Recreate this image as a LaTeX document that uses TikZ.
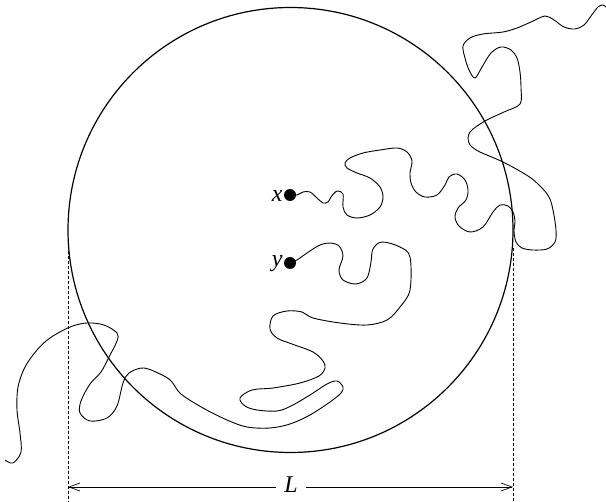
\documentclass[tikz,border=0pt]{standalone}
\usepackage{fontspec}
\setmainfont{Liberation Serif}
\usetikzlibrary{arrows.meta}
\begin{document}
\begin{tikzpicture}[x=1pt,y=-1pt,
  walk/.style={line width=0.9pt, line join=round, smooth, tension=0.55},
  dot/.style={circle, fill=black, inner sep=0pt, minimum size=12pt},
  lbl/.style={font=\fontsize{24}{24}\selectfont\itshape, inner sep=1pt},
  guide/.style={line width=0.5pt, dash pattern=on 3pt off 2pt},
  dim/.style={line width=0.7pt, {Straight Barb[length=11pt,width=8pt]}-{Straight Barb[length=11pt,width=8pt]}}]
\useasboundingbox (0,0) rectangle (606,502);
% circle
\draw[line width=1.2pt] (290.5,230) circle (222.5);
% points
\node[dot] (xd) at (290,195) {};
\node[dot] (yd) at (290,263) {};
\node[lbl, anchor=east] (xl) at ([yshift=-1pt]xd.west) {x};
\node[lbl, anchor=east] (yl) at ([yshift=-1pt]yd.west) {y};
% path from x
\draw[walk] plot coordinates {(xd) (297,195) (303,192) (310,192) (317,198) (323,203) (328,202)
 (331,197) (337,191) (343,194) (343,207) (347,215) (357,218) (370,215) (380,207) (383,197)
 (380,187) (370,178) (357,173) (347,168) (345,163) (350,158) (363,153) (380,150) (397,148)
 (407,152) (412,161) (410,173) (411,183) (416,192) (425,197) (437,195) (445,185) (449,177)
 (457,174) (465,180) (468,190) (466,200) (458,208) (455,217) (459,226) (470,232) (483,227)
 (493,212) (500,205) (508,206) (513,212) (515,221) (514,231) (516,242) (522,248) (533,250)
 (547,249) (555,242) (556,230) (553,210) (549,197) (540,186) (528,176) (503,162) (478,151)
 (469,143) (470,132) (485,121) (504,112) (520,104) (521,88) (520,72) (517,58) (511,50)
 (501,47) (491,53) (482,67) (475,78) (469,70) (465,58) (463,46) (470,38) (483,34) (503,32)
 (517,28) (531,22) (545,16) (554,20) (564,27) (575,29) (584,25) (591,16) (598,7) (603,5) (606,7)};
% path from y
\draw[walk] plot coordinates {(yd) (297,260) (307,253) (320,245) (330,243) (339,246) (343,256)
 (339,270) (343,280) (356,284) (367,278) (371,262) (373,249) (382,242) (400,247) (410,257)
 (410,290) (400,307) (387,320) (367,325) (340,323) (313,318) (302,312) (287,311) (273,316)
 (270,329) (277,338) (292,344) (313,352) (323,361) (325,368) (319,376) (300,383) (273,388)
 (252,390) (240,398) (245,406) (257,410) (277,411) (291,406) (310,395) (327,384) (337,381)
 (343,387) (341,393) (330,402) (310,415) (290,424) (270,428) (247,427) (227,420) (203,408)
 (181,394) (172,382) (164,376) (144,368) (129,373) (123,383) (117,406) (107,418) (90,421)
 (80,413) (81,401) (90,384) (101,372) (109,357) (117,341) (117,333) (104,325) (87,323)
 (70,327) (50,338) (37,350) (25,367) (18,387) (17,410) (20,433) (21,452) (13,463) (5,460)};
% guides
\coordinate (gl1) at (68,246);
\coordinate (gl2) at (68,502);
\coordinate (gr1) at (513,248);
\coordinate (gr2) at (513,502);
\draw[guide] (gl1) -- (gl2);
\draw[guide] (gr1) -- (gr2);
\coordinate (al) at (68,487);
\coordinate (ar) at (513,487);
\draw[dim] (al) -- (ar);
\node[lbl, fill=white, inner xsep=8pt] (L) at (291,485) {L};
\end{tikzpicture}
\end{document}
